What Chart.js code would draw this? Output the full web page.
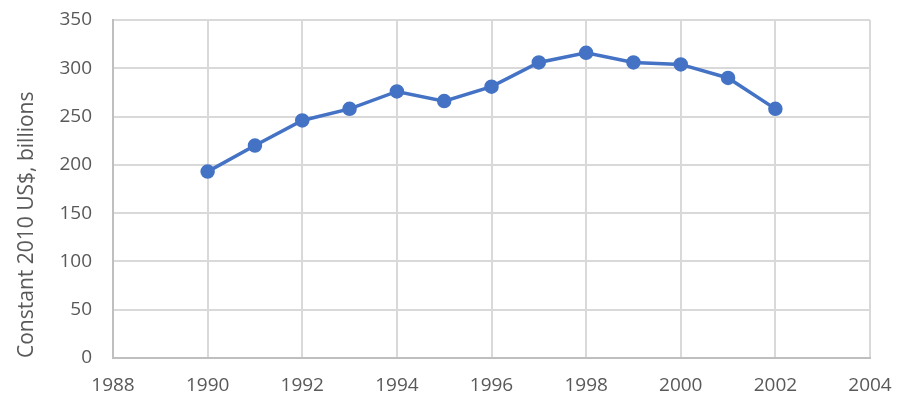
<!DOCTYPE html>
<html>
<head>
<meta charset="utf-8">
<script src="https://cdn.jsdelivr.net/npm/chart.js@4"></script>
<style>
  html, body { margin: 0; padding: 0; background: #fff; }
  #wrap { width: 904px; height: 410px; }
</style>
</head>
<body>
<div id="wrap"><canvas id="myChart" width="904" height="410"></canvas></div>
<script>
// Data
const years = [1990, 1991, 1992, 1993, 1994, 1995, 1996, 1997, 1998, 1999, 2000, 2001, 2002];
const spending = [193, 220, 246, 258, 276, 266, 281, 306, 316, 306, 304, 290, 258];
const yTicks = [0, 50, 100, 150, 200, 250, 300, 350];
const xTicks = [1988, 1990, 1992, 1994, 1996, 1998, 2000, 2002, 2004];
const yTitle = 'Constant 2010 US$, billions';

const points = years.map((yr, i) => ({ x: yr, y: spending[i] }));
const textColor = '#595959';
const font = { family: "'Open Sans', sans-serif", size: 19 };

const ctx = document.getElementById('myChart').getContext('2d');
const chart = new Chart(ctx, {
  type: 'line',
  data: {
    datasets: [{
      data: points,
      borderColor: '#4472C4',
      backgroundColor: '#4472C4',
      borderWidth: 3.5,
      pointRadius: 5.5,
      pointHoverRadius: 5.5,
      tension: 0,
    }],
  },
  options: {
    responsive: false,
    animation: false,
    layout: { padding: { top: 20, right: 34, left: 0, bottom: 0 } },
    plugins: { legend: { display: false }, tooltip: { enabled: false } },
    scales: {
      x: {
        type: 'linear',
        min: xTicks[0],
        max: xTicks[xTicks.length - 1],
        afterBuildTicks: (scale) => { scale.ticks = xTicks.map(v => ({ value: v })); },
        afterFit: (scale) => {
          scale.height = 52;
          scale.paddingLeft = 0;
          scale.paddingRight = 0;
        },
        grid: { color: '#d9d9d9', drawTicks: false, lineWidth: 2 },
        border: { color: '#bfbfbf', width: 2 },
        ticks: {
          color: textColor, font: font, padding: 16, maxRotation: 0,
          callback: (v) => String(v),
        },
      },
      y: {
        min: yTicks[0],
        max: yTicks[yTicks.length - 1],
        afterBuildTicks: (scale) => { scale.ticks = yTicks.map(v => ({ value: v })); },
        afterFit: (scale) => {
          scale.width = 113;
          scale.paddingTop = 0;
          scale.paddingBottom = 0;
        },
        grid: { color: '#d9d9d9', drawTicks: false, lineWidth: 2 },
        border: { color: '#bfbfbf', width: 2 },
        ticks: { color: textColor, font: font, padding: 21, callback: (v) => String(v) },
        title: {
          display: true,
          text: yTitle,
          color: textColor,
          font: { family: font.family, size: 21 },
          align: 'start',
          padding: { top: 14, bottom: 0 },
        },
      },
    },
  },
});
</script>
</body>
</html>
